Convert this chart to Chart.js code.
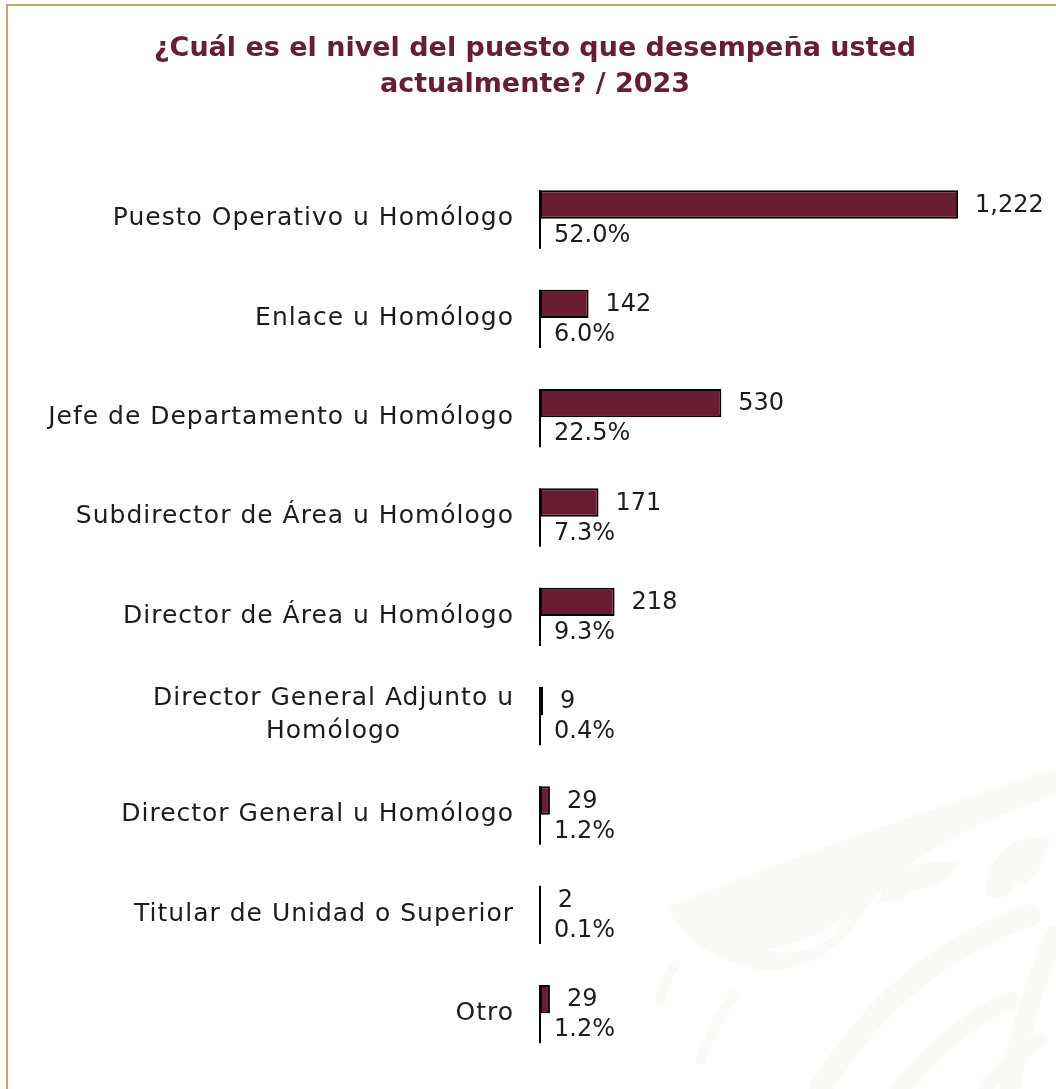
<!DOCTYPE html>
<html lang="es">
<head>
    <meta charset="UTF-8">
    <title>Nivel del puesto 2023</title>
    <style>
        body {
            margin: 0;
            background: #ffffff;
            overflow: hidden;
        }

        #marco {
            position: absolute;
            left: 6px;
            top: 4px;
            width: 1100px;
            height: 1100px;
            border-left: 2px solid #c9a46c;
            border-top: 2px solid #c9a46c;
        }

        #contenedor {
            position: absolute;
            left: 0;
            top: 0;
            width: 1056px;
            height: 1089px;
        }
    </style>
    <script src="https://cdn.jsdelivr.net/npm/chart.js"></script>
</head>
<body>
    <div id="marco"></div>
    <div id="contenedor">
        <canvas id="grafica"></canvas>
    </div>

    <script>
        const titulo = ['¿Cuál es el nivel del puesto que desempeña usted', 'actualmente? / 2023'];
        const categorias = [
            'Puesto Operativo u Homólogo',
            'Enlace u Homólogo',
            'Jefe de Departamento u Homólogo',
            'Subdirector de Área u Homólogo',
            'Director de Área u Homólogo',
            ['Director General Adjunto u', 'Homólogo'],
            'Director General u Homólogo',
            'Titular de Unidad o Superior',
            'Otro'
        ];
        const totales = [1222, 142, 530, 171, 218, 9, 29, 2, 29];
        const porcentajes = [52.0, 6.0, 22.5, 7.3, 9.3, 0.4, 1.2, 0.1, 1.2];

        const GUINDA = '#691c32';
        const TEXTO = '#1c1c1c';
        const FUENTE = '"DejaVu Sans", sans-serif';
        const MARCA = '#fbfaf6';

        // Marca de agua tenue (ala) en la esquina inferior derecha
        const fondo = {
            id: 'fondo',
            beforeDraw(chart) {
                const ctx = chart.ctx;
                ctx.save();
                ctx.fillStyle = MARCA;
                ctx.beginPath();
                ctx.moveTo(667, 907);
                ctx.quadraticCurveTo(850, 835, 1056, 768);
                ctx.lineTo(1056, 795);
                ctx.quadraticCurveTo(900, 845, 855, 925);
                ctx.quadraticCurveTo(815, 975, 760, 970);
                ctx.quadraticCurveTo(690, 955, 667, 907);
                ctx.fill();

                ctx.fillStyle = '#ffffff';
                ctx.beginPath();
                ctx.moveTo(765, 950);
                ctx.quadraticCurveTo(800, 960, 835, 935);
                ctx.quadraticCurveTo(840, 925, 845, 915);
                ctx.quadraticCurveTo(820, 940, 765, 950);
                ctx.fill();

                ctx.fillStyle = MARCA;
                [[880, 900, 958, 862], [985, 895, 1050, 838]].forEach(([a, b, c, d]) => {
                    ctx.beginPath();
                    ctx.moveTo(a, b);
                    ctx.quadraticCurveTo(a + 5, d - 5, c, d);
                    ctx.quadraticCurveTo(c - 10, b - 10, a + 30, b - 10);
                    ctx.quadraticCurveTo(a + 20, b + 10, a, b);
                    ctx.fill();
                });

                ctx.strokeStyle = MARCA;
                ctx.lineCap = 'round';
                [
                    [820, 1089, 900, 960, 1030, 915, 22],
                    [900, 1089, 960, 1020, 1010, 1000, 18],
                    [985, 1089, 1010, 1060, 1040, 1040, 14],
                    [660, 1000, 665, 980, 675, 965, 10],
                    [700, 1060, 720, 1010, 735, 995, 10],
                    [1010, 1089, 1025, 1000, 1056, 935, 20]
                ].forEach(([a, b, c, d, e, f, w]) => {
                    ctx.lineWidth = w;
                    ctx.beginPath();
                    ctx.moveTo(a, b);
                    ctx.quadraticCurveTo(c, d, e, f);
                    ctx.stroke();
                });
                ctx.restore();
            }
        };

        // Titulo, etiquetas de categoria, linea base y cifras de cada barra
        const etiquetas = {
            id: 'etiquetas',
            afterDatasetsDraw(chart) {
                const ctx = chart.ctx;
                const x = chart.scales.x;
                const y = chart.scales.y;
                const meta = chart.getDatasetMeta(0);
                const x0 = x.getPixelForValue(0);

                ctx.save();
                ctx.fillStyle = GUINDA;
                ctx.font = 'bold 27px ' + FUENTE;
                ctx.textAlign = 'center';
                ctx.textBaseline = 'middle';
                ctx.fillText(titulo[0], 535, 49);
                ctx.fillText(titulo[1], 535, 85);

                ctx.font = '25px ' + FUENTE;
                ctx.letterSpacing = '1px';
                ctx.fillStyle = TEXTO;
                categorias.forEach((cat, i) => {
                    const yc = y.getPixelForValue(i);
                    const lineas = Array.isArray(cat) ? cat : [cat];
                    const ancho = Math.max(...lineas.map(l => ctx.measureText(l).width));
                    const alto = 33;
                    ctx.textAlign = 'center';
                    lineas.forEach((l, j) => {
                        const yl = yc + (j - (lineas.length - 1) / 2) * alto;
                        ctx.fillText(l, 514 - ancho / 2, yl);
                    });
                });

                ctx.font = '24px ' + FUENTE;
                ctx.letterSpacing = '0px';
                meta.data.forEach((barra, i) => {
                    const arriba = barra.y - barra.height / 2;
                    const abajo = barra.y + barra.height / 2 + 30;
                    ctx.strokeStyle = '#000000';
                    ctx.lineWidth = 2;
                    ctx.beginPath();
                    ctx.moveTo(x0, arriba);
                    ctx.lineTo(x0, abajo);
                    ctx.stroke();

                    ctx.fillStyle = TEXTO;
                    ctx.textAlign = 'left';
                    ctx.fillText(totales[i].toLocaleString('en-US'), barra.x + 17, barra.y + 1);
                    ctx.fillText(porcentajes[i].toFixed(1) + '%', x0 + 14, barra.y + 31);
                });
                ctx.restore();
            }
        };

        const ctx = document.getElementById('grafica').getContext('2d');
        new Chart(ctx, {
            type: 'bar',
            data: {
                labels: categorias,
                datasets: [{
                    label: 'Total',
                    data: totales,
                    backgroundColor: GUINDA,
                    borderColor: '#000000',
                    borderWidth: 2,
                    borderSkipped: false,
                    categoryPercentage: 0.57,
                    barPercentage: 1
                }, {
                    // espacio reservado bajo cada barra para el porcentaje
                    label: 'Porcentaje',
                    data: categorias.map(() => null),
                    categoryPercentage: 0.57,
                    barPercentage: 1
                }]
            },
            options: {
                indexAxis: 'y',
                responsive: true,
                maintainAspectRatio: false,
                animation: false,
                layout: {
                    padding: { left: 540, right: 37, top: 169, bottom: 26 }
                },
                scales: {
                    x: { display: false, min: 0, max: 1400 },
                    y: { display: false }
                },
                plugins: {
                    legend: { display: false },
                    tooltip: { enabled: false }
                }
            },
            plugins: [fondo, etiquetas]
        });
    </script>
</body>
</html>
